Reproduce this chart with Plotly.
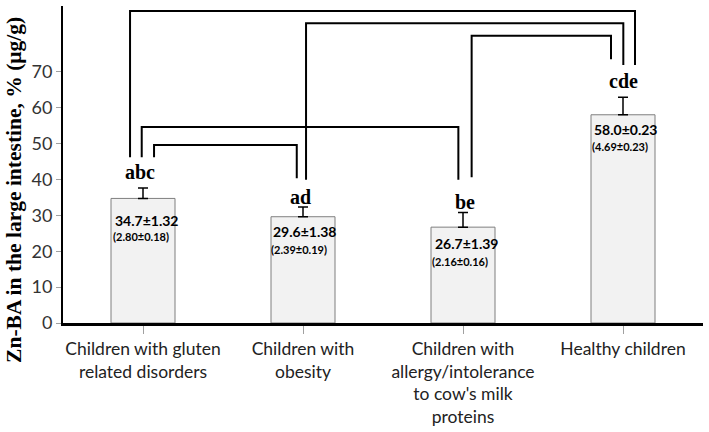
import plotly.graph_objects as go

# ---- data ----
categories = [
    "Children with gluten<br>related disorders",
    "Children with<br>obesity",
    "Children with<br>allergy/intolerance<br>to cow's milk<br>proteins",
    "Healthy children",
]
values = [34.7, 29.6, 26.7, 58.0]
errors_visual = [2.9, 2.7, 4.1, 4.9]
main_labels = ["34.7±1.32", "29.6±1.38", "26.7±1.39", "58.0±0.23"]
sub_labels = ["(2.80±0.18)", "(2.39±0.19)", "(2.16±0.16)", "(4.69±0.23)"]
letters = ["abc", "ad", "be", "cde"]
y_ticks = [0, 10, 20, 30, 40, 50, 60, 70]

x_idx = list(range(len(categories)))

fig = go.Figure()
fig.add_trace(go.Bar(
    x=x_idx, y=values, width=0.4,
    marker=dict(color="#f2f2f2", line=dict(color="#7f7f7f", width=1)),
    error_y=dict(type="data", array=errors_visual, arrayminus=[0] * 4,
                 symmetric=False, color="black", thickness=1.5, width=5),
    showlegend=False, hoverinfo="skip",
))

# text inside bars
line1_shift = [-22, -15, -16, -15]
line2_shift = [-38, -33, -34, -32]
line1_dx = [4, 2, 4, 3]
line2_dx = [-2, -4, -3, -3]
for i in x_idx:
    fig.add_annotation(x=i, y=values[i], text="<b>%s</b>" % main_labels[i],
                       showarrow=False, yshift=line1_shift[i], xshift=line1_dx[i],
                       font=dict(family="Lato", size=14, color="black"))
    fig.add_annotation(x=i, y=values[i], text="<b>%s</b>" % sub_labels[i],
                       showarrow=False, yshift=line2_shift[i], xshift=line2_dx[i],
                       font=dict(family="Lato", size=11, color="black"))

# significance letters
letter_shift = [15, 9, 9, 15]
letter_dx = [-3, -3, 2, 0]
for i in x_idx:
    fig.add_annotation(x=i, y=values[i] + errors_visual[i], text="<b>%s</b>" % letters[i],
                       showarrow=False, yanchor="bottom", yshift=letter_shift[i] - 12,
                       xshift=letter_dx[i],
                       font=dict(family="Liberation Serif", size=20, color="black"))

# brackets: (x_left, x_right, y_top, y_left_end, y_right_end)
brackets = [
    (-0.081, 3.075, 86.9, 46.2, 71.9),
    (1.019, 3.002, 83.5, 39.9, 71.9),
    (2.054, 2.925, 80.0, 40.6, 73.5),
    (-0.008, 1.971, 54.6, 46.2, 39.9),
    (0.069, 0.961, 49.6, 46.2, 40.3),
]
for xl, xr, yt, yl, yr in brackets:
    fig.add_shape(type="path",
                  path="M %f,%f L %f,%f L %f,%f L %f,%f" % (xl, yl, xl, yt, xr, yt, xr, yr),
                  xref="x", yref="y", line=dict(color="black", width=2))

# y-axis title
fig.add_annotation(xref="paper", yref="paper", x=-0.077, y=0.419,
                   text="<b>Zn-BA in the large intestine, % (μg/g)</b>",
                   textangle=-90, showarrow=False, xanchor="center", yanchor="middle",
                   font=dict(family="Liberation Serif", size=21.5, color="black"))

fig.update_layout(
    width=709, height=432,
    margin=dict(l=63, r=6, t=6, b=109, autoexpand=False),
    plot_bgcolor="white", paper_bgcolor="white",
    bargap=0.6,
)
fig.update_xaxes(
    range=[-0.5, 3.5], tickmode="array", tickvals=x_idx, ticktext=categories,
    showline=True, linecolor="black", linewidth=2.5,
    ticks="outside", ticklen=8, tickcolor="#a0a0a0", tickwidth=1,
    showgrid=False, zeroline=False, automargin=False,
    tickfont=dict(family="Lato", size=17.5, color="#222222"),
)
fig.update_yaxes(
    range=[0, 88.3], tickmode="array", tickvals=y_ticks,
    showline=True, linecolor="black", linewidth=2,
    ticks="outside", ticklen=5, tickcolor="#a0a0a0",
    showgrid=False, zeroline=False, automargin=False,
    tickfont=dict(family="Lato", size=18, color="#333333"),
)
fig.write_html("out.html", config={"displayModeBar": False},
               post_script="document.body.style.margin='0px';document.body.style.padding='0px';")
